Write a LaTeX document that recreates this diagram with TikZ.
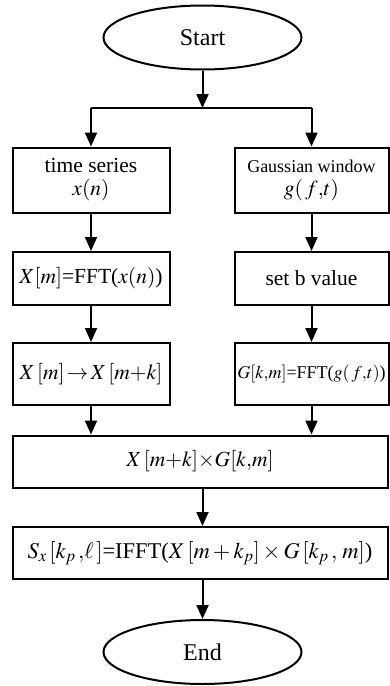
\documentclass[tikz,border=0pt]{standalone}
\usepackage{mathptmx}
\usepackage{fontspec}
\setmainfont{Liberation Serif}
\usetikzlibrary{shapes.geometric,arrows.meta}
% sizes of the flow chart text
\newcommand{\bigtxt}{\fontsize{21.5}{25}\selectfont}
\newcommand{\smalltxt}{\fontsize{18}{21}\selectfont}
\newcommand{\termtxt}{\fontsize{24}{28}\selectfont}
\tikzset{
  line/.style={line width=2pt},
  flow/.style={line, -{Triangle[length=14pt,width=12pt]}},
  term/.style={draw, line, ellipse, minimum width=198pt, minimum height=64pt,
               inner sep=0pt, font=\termtxt},
  pbox/.style={draw, line, rectangle, minimum width=157pt, inner sep=0pt,
               align=center, font=\bigtxt},
  wbox/.style={draw, line, rectangle, minimum width=375pt, minimum height=52pt,
               inner sep=0pt, font=\bigtxt},
}
\begin{document}
\begin{tikzpicture}[x=1pt,y=-1pt]
\useasboundingbox (0,0) rectangle (389,686);

% start and end
\node[term] (start) at (202.5,37.5) {Start};
\node[term] (stop) at (202.5,652) {End};

% left column
\node[pbox, minimum height=65pt] (series) at (91,180)
  {time series\\[-2pt] $x(n)$};
\node[pbox, minimum height=53pt] (fftx) at (91,278.5)
  {$X[m]$=FFT($x(n)$)};
\node[pbox, minimum height=62pt] (shift) at (91,374)
  {$X\,[m]\!\rightarrow\! X\,[m{+}k]$};

% right column
\node[pbox, minimum width=154pt, minimum height=65pt, font=\smalltxt] (gauss) at (311.5,180)
  {Gaussian window\\[2pt] {\bigtxt $g(\,f{,}t)$}};
\node[pbox, minimum width=154pt, minimum height=53pt] (setb) at (311.5,278.5)
  {set b value};
\node[pbox, minimum width=154pt, minimum height=62pt, font=\smalltxt] (fftg) at (311.5,374)
  {$G[k{,}m]$=FFT($g(\,f{,}t)$)};

% bottom boxes
\node[wbox] (prod) at (200,461.5) {$X\,[m{+}k]{\times}G[k{,}m]$};
\node[wbox, font=\fontsize{22.5}{26}\selectfont] (ifft) at (200,553)
  {$S_x\,[k_p\,{,}\ell\,]$=IFFT($X\,[m + k_p] \times G\,[k_p\,,\,m]$)};

% split under start
\coordinate (split) at (202.5,108);
\draw[flow] (start.south) -- (split);
\draw[line] (series.north |- split) -- (gauss.north |- split);
\draw[flow] (series.north |- split) -- (series.north);
\draw[flow] (gauss.north |- split) -- (gauss.north);

% columns
\draw[flow] (series) -- (fftx);
\draw[flow] (fftx) -- (shift);
\draw[flow] (gauss) -- (setb);
\draw[flow] (setb) -- (fftg);
\draw[flow] (shift.south) -- (shift.south |- prod.north);
\draw[flow] (fftg.south) -- (fftg.south |- prod.north);

% to the end
\draw[flow] (prod.south -| start) -- (ifft.north -| start);
\draw[flow] (ifft.south -| start) -- (stop.north);
\end{tikzpicture}
\end{document}
